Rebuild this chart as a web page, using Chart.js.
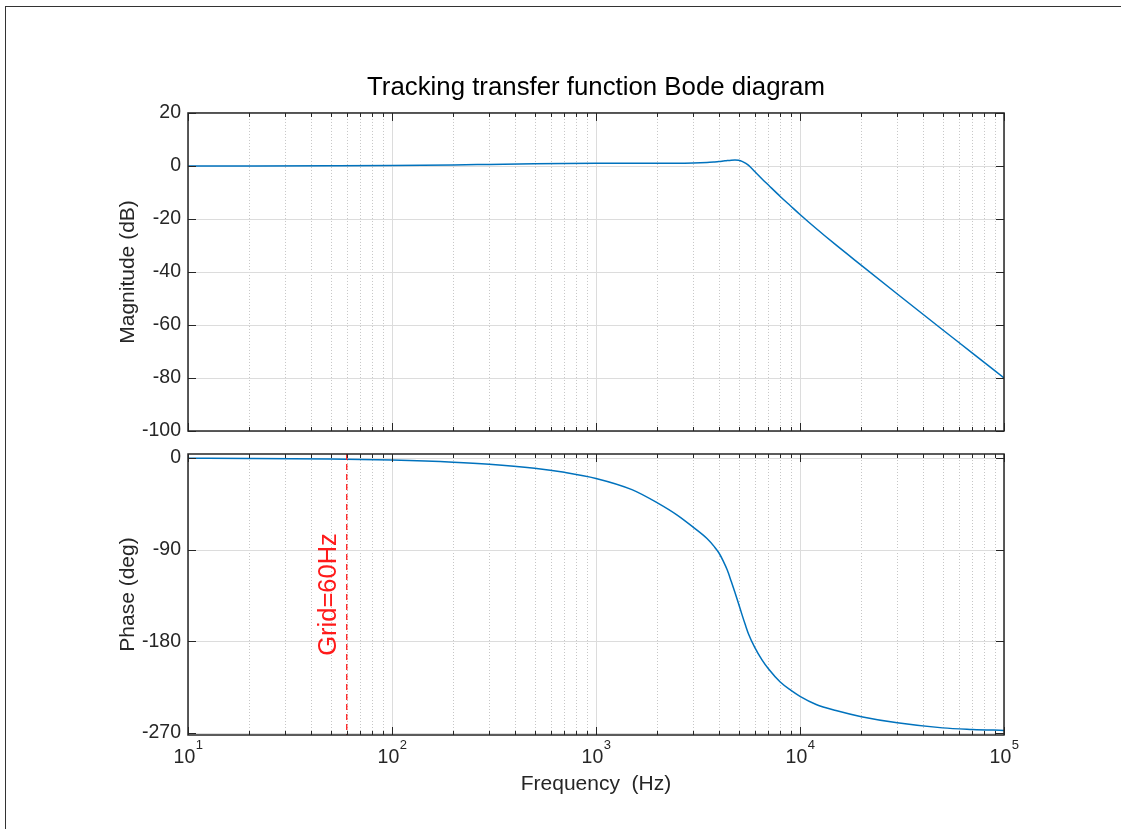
<!DOCTYPE html>
<html>
<head>
<meta charset="utf-8">
<script src="https://cdn.jsdelivr.net/npm/chart.js@4.4.1/dist/chart.umd.min.js"></script>
<style>
  html, body { margin: 0; padding: 0; background: #fff; }
  body { width: 1121px; height: 829px; position: relative; overflow: hidden; }
  #frame { position: absolute; left: 5px; top: 6px; right: -2px; bottom: -2px;
           border-top: 1px solid #333; border-left: 1px solid #333; }
  .box { position: absolute; left: 100px; width: 992px; }
  #magBox { top: 50px; height: 400px; }
  #phaseBox { top: 435px; height: 362px; }
</style>
</head>
<body>
<div id="frame"></div>
<div class="box" id="magBox"><canvas id="mag"></canvas></div>
<div class="box" id="phaseBox"><canvas id="phase"></canvas></div>

<script>
// values
const freqHz = [10, 20, 50, 100, 200, 300, 500, 700, 1000, 1500, 2000, 2500, 3000, 3500,
                3800, 4000, 4200, 4400, 4600, 4800, 5000, 5200, 5400, 5600, 6000, 6500,
                7000, 8000, 9000, 10000, 12000, 15000, 20000, 30000, 50000, 70000, 100000];
const magDb = [0, 0, 0.05, 0.15, 0.4, 0.6, 0.85, 0.95, 1.0, 1.0, 1.0, 1.03, 1.1, 1.3,
               1.5, 1.65, 1.85, 2.05, 2.2, 2.25, 2.15, 1.75, 1.05, 0.2, -2.1, -4.8,
               -7.2, -11.5, -15.1, -18.3, -23.6, -29.8, -37.5, -48.3, -61.8, -70.6, -80];
const phaseDeg = [-0.2, -0.4, -1, -2, -4, -6, -10, -14, -20, -31, -44, -56, -68, -79,
                  -87, -93, -101, -110, -121, -132, -143, -154, -164, -173, -186, -198,
                  -207, -220, -228, -234, -242, -248, -254, -260, -265, -266.5, -267.5];

const magTicks = [20, 0, -20, -40, -60, -80, -100];
const phaseTicks = [0, -90, -180, -270];
const decades = [10, 100, 1000, 10000, 100000];
const decadeExp = ['1', '2', '3', '4', '5'];
const gridFreq = 60;
const gridLabel = 'Grid=60Hz';

const FONT = '"Liberation Sans", Arial, Helvetica, sans-serif';
const INK = '#262626';
const BLUE = '#0072BD';

// minor log positions 2..9 in every decade
const minorFreqs = [];
decades.slice(0, -1).forEach(d => { for (let k = 2; k <= 9; k++) minorFreqs.push(d * k); });

function seg(ctx, x1, y1, x2, y2) {
  ctx.beginPath(); ctx.moveTo(x1, y1); ctx.lineTo(x2, y2); ctx.stroke();
}

// matlab-style grid, inward ticks, box, log labels and the 60Hz marker
const matlabAxes = {
  id: 'matlabAxes',
  beforeDatasetsDraw(chart, args, opts) {
    const {ctx, chartArea: a} = chart;
    const x = chart.scales.x, y = chart.scales.y;
    ctx.save();
    ctx.lineWidth = 1;
    ctx.strokeStyle = '#c6c6c6';
    ctx.setLineDash([1, 2]);
    minorFreqs.forEach(f => {
      const px = Math.round(x.getPixelForValue(f)) + 0.5;
      seg(ctx, px, a.top, px, a.bottom);
    });
    ctx.setLineDash([]);
    ctx.strokeStyle = '#dcdcdc';
    decades.forEach(f => {
      const px = Math.round(x.getPixelForValue(f)) + 0.5;
      seg(ctx, px, a.top, px, a.bottom);
    });
    opts.yTicks.forEach(v => {
      const py = Math.round(y.getPixelForValue(v)) + 0.5;
      seg(ctx, a.left, py, a.right, py);
    });
    ctx.restore();
  },
  afterDatasetsDraw(chart, args, opts) {
    const {ctx, chartArea: a} = chart;
    const x = chart.scales.x, y = chart.scales.y;
    ctx.save();

    if (opts.marker) {
      const px = x.getPixelForValue(gridFreq);
      ctx.save();
      ctx.strokeStyle = '#ff1a1a';
      ctx.lineWidth = 1.3;
      ctx.setLineDash([6, 4]);
      seg(ctx, px, a.top, px, a.bottom);
      ctx.setLineDash([]);
      ctx.translate(px - 18, (a.top + a.bottom) / 2);
      ctx.rotate(-Math.PI / 2);
      ctx.fillStyle = '#ff1a1a';
      ctx.font = '25.5px ' + FONT;
      ctx.textAlign = 'center';
      ctx.textBaseline = 'middle';
      ctx.fillText(gridLabel, 0, 0);
      ctx.restore();
    }

    ctx.strokeStyle = INK;
    ctx.lineWidth = 1;
    decades.forEach(f => {
      const px = Math.round(x.getPixelForValue(f)) + 0.5;
      seg(ctx, px, a.top, px, a.top + 8);
      seg(ctx, px, a.bottom, px, a.bottom - 8);
    });
    minorFreqs.forEach(f => {
      const px = Math.round(x.getPixelForValue(f)) + 0.5;
      seg(ctx, px, a.top, px, a.top + 4);
      seg(ctx, px, a.bottom, px, a.bottom - 4);
    });
    opts.yTicks.forEach(v => {
      const py = Math.round(y.getPixelForValue(v)) + 0.5;
      seg(ctx, a.left, py, a.left + 8, py);
      seg(ctx, a.right, py, a.right - 8, py);
    });
    ctx.lineWidth = 1.5;
    ctx.strokeRect(a.left, a.top, a.right - a.left, a.bottom - a.top);

    if (opts.xLabels) {
      ctx.fillStyle = INK;
      ctx.textBaseline = 'alphabetic';
      ctx.textAlign = 'left';
      decades.forEach((f, i) => {
        const px = x.getPixelForValue(f);
        ctx.font = '19.5px ' + FONT;
        const w1 = ctx.measureText('10').width;
        ctx.font = '13px ' + FONT;
        const w2 = ctx.measureText(decadeExp[i]).width;
        const start = px - (w1 + w2) / 2;
        ctx.font = '19.5px ' + FONT;
        ctx.fillText('10', start, a.bottom + 28);
        ctx.font = '13px ' + FONT;
        ctx.fillText(decadeExp[i], start + w1 + 0.5, a.bottom + 14);
      });
    }
    ctx.restore();
  }
};

function yAxis(min, max, ticks, label) {
  return {
    type: 'linear', position: 'left', min: min, max: max,
    afterBuildTicks: s => { s.ticks = ticks.map(v => ({value: v})); },
    afterFit: s => { s.width = 88; },
    grid: {display: false, drawTicks: false},
    border: {display: false},
    ticks: {color: INK, padding: 7, font: {family: FONT, size: 19.5}},
    title: {display: true, text: label, color: INK, padding: {top: 16, bottom: 0},
            font: {family: FONT, size: 21}}
  };
}

// empty right axis only to mirror the left gutter
const rightGutter = {
  type: 'linear', position: 'right', display: true,
  afterFit: s => { s.width = 88; },
  grid: {display: false, drawTicks: false},
  border: {display: false},
  ticks: {display: false}
};

function curve(values) {
  return {
    data: freqHz.map((f, i) => ({x: f, y: values[i]})),
    borderColor: BLUE, borderWidth: 1.5, pointRadius: 0,
    cubicInterpolationMode: 'monotone', fill: false
  };
}

new Chart(document.getElementById('mag'), {
  type: 'line',
  data: {datasets: [curve(magDb)]},
  options: {
    responsive: true, maintainAspectRatio: false, animation: false, events: [],
    layout: {padding: {top: 0, left: 0, right: 0, bottom: 19}},
    scales: {
      x: {type: 'logarithmic', min: 10, max: 100000, display: false},
      y: yAxis(-100, 20, magTicks, 'Magnitude (dB)'),
      yR: rightGutter
    },
    plugins: {
      legend: {display: false}, tooltip: {enabled: false},
      title: {display: true, text: 'Tracking transfer function Bode diagram', color: '#000',
              font: {family: FONT, size: 25.8, weight: 'normal'}, padding: {top: 22, bottom: 10}},
      matlabAxes: {yTicks: magTicks, marker: false, xLabels: false}
    }
  },
  plugins: [matlabAxes]
});

new Chart(document.getElementById('phase'), {
  type: 'line',
  data: {datasets: [curve(phaseDeg)]},
  options: {
    responsive: true, maintainAspectRatio: false, animation: false, events: [],
    layout: {padding: {top: 19, left: 0, right: 0, bottom: 0}},
    scales: {
      x: {
        type: 'logarithmic', min: 10, max: 100000,
        afterFit: s => { s.height = 62; },
        grid: {display: false, drawTicks: false},
        border: {display: false},
        ticks: {display: false},
        title: {display: true, text: 'Frequency  (Hz)', color: INK, padding: {top: 0, bottom: 0},
                font: {family: FONT, size: 21}}
      },
      y: yAxis(-272, 4, phaseTicks, 'Phase (deg)'),
      yR: rightGutter
    },
    plugins: {
      legend: {display: false}, tooltip: {enabled: false},
      matlabAxes: {yTicks: phaseTicks, marker: true, xLabels: true}
    }
  },
  plugins: [matlabAxes]
});
</script>
</body>
</html>
